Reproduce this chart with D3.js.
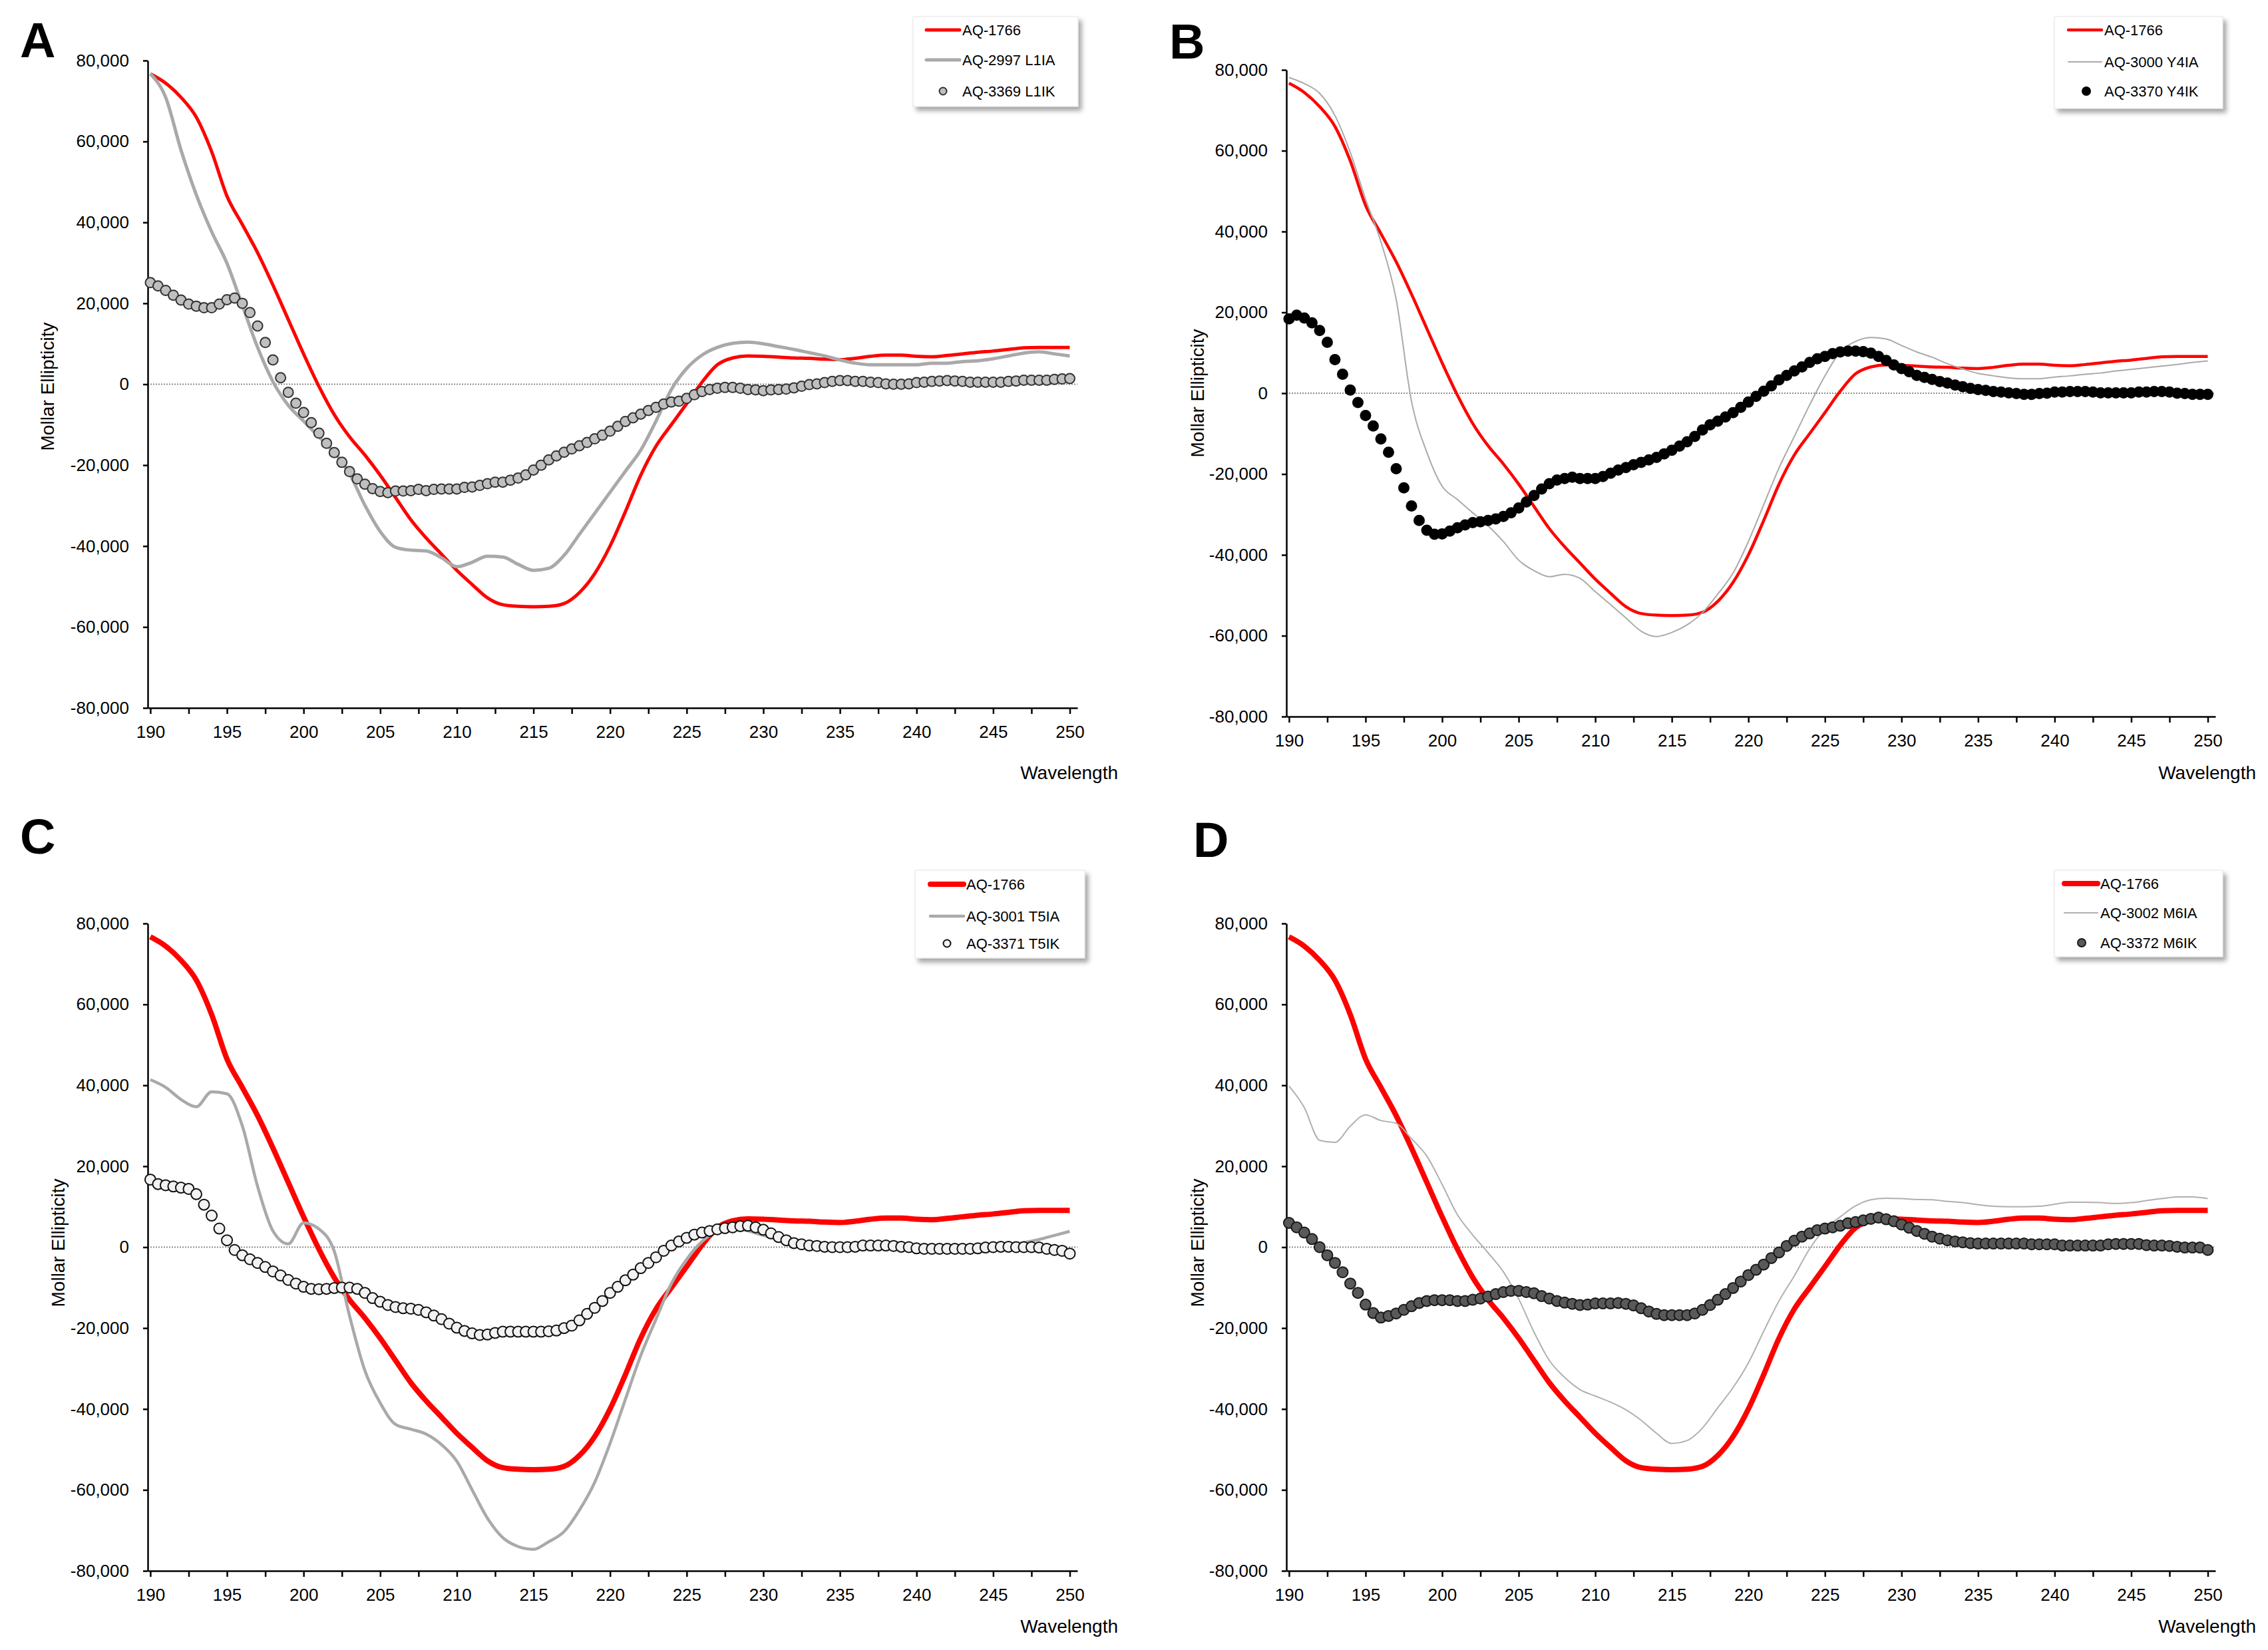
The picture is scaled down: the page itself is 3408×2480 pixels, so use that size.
<!DOCTYPE html>
<html>
<head>
<meta charset="utf-8">
<script src="https://cdn.jsdelivr.net/npm/d3@7"></script>
<style>
  body { margin: 0; background: #fff; }
  svg text { font-family: "Liberation Sans", Arial, Helvetica, sans-serif; fill: #000; }
</style>
</head>
<body>
<svg id="fig" width="3408" height="2480"></svg>
<script>
// measurement grids (nm)
const wavelength1nm = d3.range(190, 250.5, 1);    // 61 points, line series
const wavelengthHalf = d3.range(190, 250.25, 0.5); // 121 points, marker series

const xTickMarks = d3.range(190, 250.1, 2.5);
const xTickLabels = [190, 195, 200, 205, 210, 215, 220, 225, 230, 235, 240, 245, 250];
const yTickValues = [-80000, -60000, -40000, -20000, 0, 20000, 40000, 60000, 80000];

// AQ-1766 (same reference curve in every panel)
const aq1766 = [
  76700, 74400, 70900, 66000, 57500, 46500, 39500, 32500, 24500, 16000,
  7500, -500, -7500, -13000, -17500, -22500, -28000, -33500, -38000, -42000,
  -46000, -49500, -52800, -54500, -54900, -55000, -54900, -54200, -51500, -46800,
  -40000, -31500, -22500, -15300, -10000, -4800, 500, 4800, 6500, 7000,
  6900, 6700, 6500, 6400, 6200, 6100, 6400, 6900, 7200, 7200,
  6900, 6800, 7100, 7500, 7900, 8200, 8600, 9000, 9100, 9100,
  9100
];

// panel A
const aq2997 = [
  76700, 70900, 57900, 46800, 37700, 29900, 19500, 9100, 650, -5200,
  -9100, -13000, -16900, -22100, -29900, -36400, -40300, -41000, -41200, -42900,
  -45100, -44000, -42500, -42700, -44500, -46000, -45500, -42300, -37100, -31900,
  -26700, -21500, -16300, -9100, -1300, 3900, 7200, 9100, 10100, 10400,
  10000, 9300, 8600, 7800, 7000, 6000, 5200, 4800, 4800, 4800,
  4800, 5200, 5200, 5600, 5800, 6300, 7000, 7700, 8000, 7500,
  7000
];
const aq3369 = [
  25100, 24300, 23200, 22000, 20800, 19800, 19300, 18900, 18900, 19800,
  20900, 21300, 20000, 17700, 14400, 10300, 6000, 1600, -2000, -4700,
  -7000, -9500, -12100, -14600, -16900, -19300, -21600, -23400, -24700, -25800,
  -26500, -26800, -26400, -26400, -26300, -26000, -26300, -26000, -25900, -25900,
  -25900, -25500, -25400, -25000, -24600, -24200, -24200, -23700, -23200, -22400,
  -21200, -20000, -18700, -17700, -16800, -16000, -15200, -14400, -13500, -12600,
  -11600, -10400, -9200, -8300, -7400, -6500, -5700, -4900, -4400, -4200,
  -3500, -2600, -1800, -1300, -1000, -800, -800, -1000, -1300, -1400,
  -1600, -1400, -1300, -1200, -900, -500, -100, 100, 400, 700,
  900, 900, 700, 700, 500, 400, 100, 0, 0, 100,
  400, 500, 700, 800, 900, 800, 700, 500, 500, 500,
  500, 500, 700, 800, 1000, 1000, 1000, 1000, 1200, 1300,
  1400
];

// panel B
const aq3000 = [
  78100, 76600, 74200, 68700, 59600, 48000, 37500, 23200, -2000, -14600,
  -23000, -26300, -29600, -32800, -36700, -41300, -43900, -45400, -44800, -45800,
  -49100, -52300, -55600, -58900, -60200, -59200, -57300, -54300, -49700, -44500,
  -36700, -27600, -18500, -10700, -2900, 4300, 10200, 12800, 13800, 13400,
  11800, 10200, 8900, 7300, 6000, 4900, 4300, 3800, 3600, 3600,
  4000, 4300, 4700, 5000, 5500, 5900, 6300, 6700, 7100, 7600,
  8000
];
const aq3370 = [
  18400, 19300, 18600, 17400, 15500, 12600, 8300, 4700, 800, -2300,
  -5500, -8100, -11300, -14600, -18700, -23400, -27900, -31500, -33900, -34900,
  -34800, -34100, -33300, -32600, -32000, -31800, -31500, -31100, -30500, -29600,
  -28400, -26900, -25300, -23700, -22400, -21500, -21100, -20800, -21100, -21100,
  -21100, -20600, -19800, -19000, -18400, -17700, -17100, -16500, -15900, -15000,
  -14100, -13100, -12000, -10700, -9100, -7800, -6900, -5900, -4800, -3500,
  -2200, -800, 500, 1800, 3300, 4400, 5500, 6500, 7600, 8500,
  9100, 9800, 10200, 10400, 10400, 10300, 9900, 9100, 8100, 7000,
  6100, 5300, 4400, 3900, 3400, 2900, 2500, 2000, 1600, 1200,
  900, 700, 400, 300, 100, -100, -300, -300, -100, 0,
  300, 300, 400, 400, 400, 300, 100, 100, 100, 100,
  100, 300, 300, 400, 400, 300, 0, -100, -300, -300,
  -300
];

// panel C
const aq3001 = [
  41400, 39500, 36500, 34700, 38400, 37900, 30000, 15000, 4000, 800,
  6000, 4500, -1000, -17000, -30500, -38500, -43800, -45000, -46200, -48800,
  -52900, -60000, -67000, -71800, -74000, -74700, -72800, -70300, -65000, -58100,
  -48500, -37600, -26800, -17800, -9000, -3000, 1400, 4000, 4600, 4000,
  2900, 2000, 1500, 1000, 600, 300, 200, 0, 0, 0,
  0, -100, -200, -300, -200, 100, 500, 1100, 1900, 2900,
  3900
];
const aq3371 = [
  16700, 15600, 15300, 15000, 14700, 14400, 13100, 10500, 7800, 4600,
  1700, -700, -2000, -3000, -3900, -4900, -6000, -7000, -8100, -9000,
  -9800, -10300, -10400, -10300, -10100, -10000, -10000, -10300, -11300, -12600,
  -13500, -14300, -14800, -15100, -15200, -15500, -16100, -16900, -17800, -18900,
  -19900, -20700, -21300, -21700, -21600, -21200, -20900, -20900, -20900, -20900,
  -20900, -20900, -20800, -20600, -20000, -19400, -18100, -16500, -15000, -13300,
  -11300, -9800, -8200, -6800, -5200, -3900, -2500, -900, 400, 1400,
  2300, 3100, 3600, 4000, 4400, 4700, 4900, 5200, 5300, 4900,
  4300, 3400, 2500, 1700, 1000, 700, 400, 300, 100, 0,
  0, 0, 100, 400, 400, 400, 400, 300, 100, 0,
  -300, -400, -400, -400, -400, -400, -400, -400, -300, -100,
  0, 100, 100, 0, 0, 0, -100, -400, -700, -900,
  -1600
];

// panel D
const aq3002 = [
  39800, 34500, 26400, 25900, 29900, 32700, 31300, 30600, 26800, 22500,
  15500, 8000, 3000, -1400, -6100, -12800, -21000, -28000, -32200, -35200,
  -36800, -38300, -40200, -42800, -46000, -48500, -47800, -44700, -39700, -34700,
  -28600, -20800, -13300, -7100, -400, 4500, 7500, 10200, 11700, 12100,
  12000, 11800, 11700, 11300, 11000, 10500, 10100, 10000, 10000, 10100,
  10600, 11100, 11100, 11000, 10800, 11000, 11500, 12000, 12400, 12400,
  12000
];
const aq3372 = [
  6000, 4900, 3600, 2000, 0, -2000, -3900, -6200, -9000, -11300,
  -14200, -16300, -17400, -17000, -16400, -15500, -14600, -13800, -13300, -13100,
  -13100, -13100, -13300, -13300, -13000, -12700, -12200, -11600, -11100, -10800,
  -10800, -11100, -11400, -12100, -12700, -13300, -13700, -14000, -14300, -14200,
  -13900, -13900, -13900, -13800, -14000, -14400, -15100, -15900, -16500, -16800,
  -16800, -16800, -16800, -16400, -15500, -14300, -13000, -11600, -10100, -8500,
  -6900, -5600, -4300, -2700, -1300, 300, 1600, 2600, 3400, 4200,
  4600, 4900, 5300, 5900, 6200, 6600, 7000, 7300, 6900, 6400,
  5600, 4800, 4000, 3300, 2600, 2100, 1700, 1400, 1200, 1000,
  900, 900, 900, 900, 900, 900, 900, 700, 700, 700,
  700, 400, 400, 400, 400, 400, 400, 700, 800, 800,
  800, 800, 500, 400, 400, 300, 100, -100, -100, -100,
  -700
];

const panels = [
  { letter: "A", letterX: 30, letterY: 86, left: 222, right: 1619, top: 91, bottom: 1064,
    titleX: 71, titleY: 581, wlRight: 1680, wlY: 1161,
    legend: { x: 1372, y: 25, w: 248, h: 135, rows: [45, 90, 137], lx1: 1392, lx2: 1442, tx: 1446, mx: 1417, r: 5.5 },
    redW: 5, grayW: 5, grayColor: "#a9a9a9", markFill: "#bfbfbf", markStroke: "#333", markR: 7.5,
    names: ["AQ-1766", "AQ-2997 L1IA", "AQ-3369 L1IK"], gray: aq2997, dots: aq3369 },
  { letter: "B", letterX: 1757, letterY: 88, left: 1933, right: 3329, top: 105, bottom: 1077,
    titleX: 1799, titleY: 591, wlRight: 3390, wlY: 1161,
    legend: { x: 3087, y: 25, w: 253, h: 138, rows: [45, 93, 137], lx1: 3108, lx2: 3158, tx: 3162, mx: 3135, r: 6 },
    redW: 4.5, grayW: 2, grayColor: "#aaaaaa", markFill: "#000", markStroke: "#000", markR: 7.5,
    names: ["AQ-1766", "AQ-3000 Y4IA", "AQ-3370 Y4IK"], gray: aq3000, dots: aq3370 },
  { letter: "C", letterX: 30, letterY: 1283, left: 222, right: 1619, top: 1388, bottom: 2361,
    titleX: 87, titleY: 1868, wlRight: 1680, wlY: 2444,
    legend: { x: 1375, y: 1308, w: 255, h: 132, rows: [1329, 1377, 1418], lx1: 1398, lx2: 1448, tx: 1452, mx: 1423, r: 5.5 },
    redW: 8, grayW: 4.5, grayColor: "#a9a9a9", markFill: "#f2f2f2", markStroke: "#111", markR: 8,
    names: ["AQ-1766", "AQ-3001 T5IA", "AQ-3371 T5IK"], gray: aq3001, dots: aq3371 },
  { letter: "D", letterX: 1793, letterY: 1288, left: 1933, right: 3329, top: 1388, bottom: 2361,
    titleX: 1799, titleY: 1868, wlRight: 3390, wlY: 2444,
    legend: { x: 3087, y: 1308, w: 253, h: 130, rows: [1328, 1372, 1417], lx1: 3102, lx2: 3152, tx: 3156, mx: 3128, r: 6 },
    redW: 8, grayW: 2, grayColor: "#b0b0b0", markFill: "#595959", markStroke: "#1a1a1a", markR: 8,
    names: ["AQ-1766", "AQ-3002 M6IA", "AQ-3372 M6IK"], gray: aq3002, dots: aq3372 }
];

const svg = d3.select("#fig");
svg.append("rect").attr("width", 3408).attr("height", 2480).attr("fill", "#fff");

svg.append("defs").append("filter")
  .attr("id", "shadow").attr("x", "-10%").attr("y", "-10%").attr("width", "130%").attr("height", "140%")
  .append("feDropShadow")
  .attr("dx", 5).attr("dy", 6).attr("stdDeviation", 3.5)
  .attr("flood-color", "#000").attr("flood-opacity", 0.35);

const fmtY = d => d3.format(",")(d).replace("\u2212", "-");

function drawPanel(p) {
  const x = d3.scaleLinear().domain([189.83, 250.5]).range([p.left, p.right]);
  const y = d3.scaleLinear().domain([-80000, 80000]).range([p.bottom, p.top]);
  const g = svg.append("g");

  // panel letter
  g.append("text")
    .attr("x", p.letterX).attr("y", p.letterY)
    .attr("font-size", 74).attr("font-weight", "bold")
    .text(p.letter);

  // dotted zero line
  g.append("line")
    .attr("x1", p.left).attr("x2", p.right)
    .attr("y1", y(0)).attr("y2", y(0))
    .attr("stroke", "#8c8c8c").attr("stroke-width", 2)
    .attr("stroke-dasharray", "2,2");

  // axes
  const xAxis = g.append("g")
    .attr("transform", `translate(0,${p.bottom})`)
    .call(d3.axisBottom(x).tickValues(xTickMarks).tickSize(9).tickSizeOuter(0).tickPadding(18)
      .tickFormat(d => xTickLabels.includes(d) ? d : ""));
  const yAxis = g.append("g")
    .attr("transform", `translate(${p.left},0)`)
    .call(d3.axisLeft(y).tickValues(yTickValues).tickSize(7).tickSizeOuter(0).tickPadding(21)
      .tickFormat(fmtY));

  [xAxis, yAxis].forEach(a => {
    a.select(".domain").attr("stroke", "#000").attr("stroke-width", 2.5);
    a.selectAll(".tick line").attr("stroke", "#000").attr("stroke-width", 2.5);
    a.selectAll(".tick text").attr("font-size", 26).attr("fill", "#000")
      .attr("font-family", "'Liberation Sans', Arial, sans-serif");
  });

  // axis titles
  g.append("text")
    .attr("transform", `translate(${p.titleX},${p.titleY}) rotate(-90)`)
    .attr("text-anchor", "middle").attr("dy", "0.35em")
    .attr("font-size", 28)
    .text("Mollar Ellipticity");

  g.append("text")
    .attr("x", p.wlRight).attr("y", p.wlY)
    .attr("text-anchor", "end").attr("dy", "0.35em")
    .attr("font-size", 28)
    .text("Wavelength");

  const line = d3.line()
    .x((d, i) => x(wavelength1nm[i]))
    .y(d => y(d))
    .curve(d3.curveMonotoneX);

  // AQ-1766
  g.append("path")
    .datum(aq1766)
    .attr("d", line)
    .attr("fill", "none").attr("stroke", "#ff0000")
    .attr("stroke-width", p.redW).attr("stroke-linejoin", "round");

  // alanine mutant
  g.append("path")
    .datum(p.gray)
    .attr("d", line)
    .attr("fill", "none").attr("stroke", p.grayColor)
    .attr("stroke-width", p.grayW).attr("stroke-linejoin", "round");

  // lysine mutant (markers)
  g.append("g")
    .selectAll("circle")
    .data(p.dots)
    .join("circle")
    .attr("cx", (d, i) => x(wavelengthHalf[i]))
    .attr("cy", d => y(d))
    .attr("r", p.markR)
    .attr("fill", p.markFill)
    .attr("stroke", p.markStroke)
    .attr("stroke-width", 2);

  // legend
  const L = p.legend;
  const lg = g.append("g");
  lg.append("rect")
    .attr("x", L.x).attr("y", L.y).attr("width", L.w).attr("height", L.h)
    .attr("fill", "#fff").attr("stroke", "#e3e3e3").attr("stroke-width", 1)
    .attr("filter", "url(#shadow)");

  lg.append("line")
    .attr("x1", L.lx1).attr("x2", L.lx2).attr("y1", L.rows[0]).attr("y2", L.rows[0])
    .attr("stroke", "#ff0000").attr("stroke-width", p.redW).attr("stroke-linecap", "round");
  lg.append("line")
    .attr("x1", L.lx1).attr("x2", L.lx2).attr("y1", L.rows[1]).attr("y2", L.rows[1])
    .attr("stroke", p.grayColor).attr("stroke-width", p.grayW).attr("stroke-linecap", "round");
  lg.append("circle")
    .attr("cx", L.mx).attr("cy", L.rows[2]).attr("r", L.r)
    .attr("fill", p.markFill).attr("stroke", p.markStroke).attr("stroke-width", 2);

  lg.selectAll("text.leg")
    .data(p.names)
    .join("text")
    .attr("class", "leg")
    .attr("x", L.tx)
    .attr("y", (d, i) => L.rows[i])
    .attr("dy", "0.35em")
    .attr("font-size", 22)
    .text(d => d);
}

panels.forEach(drawPanel);
</script>
</body>
</html>
